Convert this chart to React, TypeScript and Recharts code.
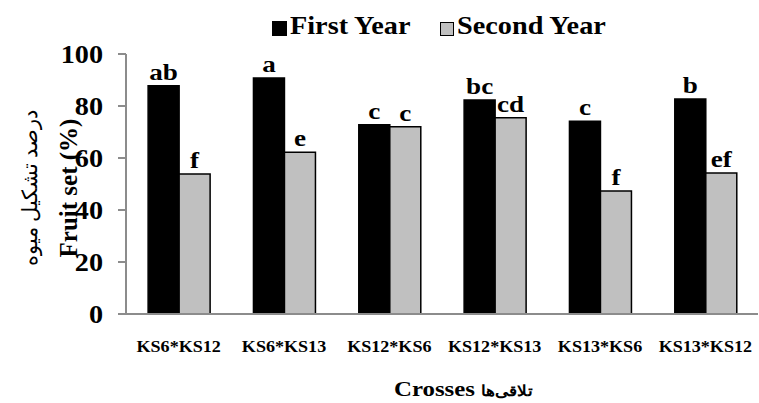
import { BarChart, Bar, XAxis, YAxis, LabelList, Label } from 'recharts';

const crosses = ['KS6*KS12', 'KS6*KS13', 'KS12*KS6', 'KS12*KS13', 'KS13*KS6', 'KS13*KS12'];
const firstYear = [87.8, 90.8, 72.8, 82.3, 74.1, 82.7];
const secondYear = [53.8, 62.2, 72.0, 75.5, 47.3, 54.2];
const firstLetters = ['ab', 'a', 'c', 'bc', 'c', 'b'];
const secondLetters = ['f', 'e', 'c', 'cd', 'f', 'ef'];
const yTicks = [0, 20, 40, 60, 80, 100];
const boundaryTicks = [0, 1, 2, 3, 4, 5, 6];

const data = crosses.map((name, i) => ({
  name,
  idx: i + 0.5,
  first: firstYear[i],
  second: secondYear[i],
  firstLbl: firstLetters[i],
  secondLbl: secondLetters[i],
}));

const serif = "'Liberation Serif', Tinos, 'Times New Roman', Times, serif";
const axisGrey = '#8c8c8c';
// the original picture is stretched a bit horizontally
const SX = 1.13;

function YTick({ x, y, payload }: any) {
  return (
    <g transform={`translate(${x},${y})`}>
      <text transform={`scale(${SX},1)`} textAnchor="end" dy="0.35em" style={{ fontFamily: serif, fontWeight: 'bold', fontSize: 25 }} fill="#000">
        {payload.value}
      </text>
    </g>
  );
}

function XTick({ x, y, payload }: any) {
  return (
    <g transform={`translate(${x},${y})`}>
      <text transform={`scale(${SX},1)`} textAnchor="middle" dy="0.71em" style={{ fontFamily: serif, fontWeight: 'bold', fontSize: 16 }} fill="#000">
        {payload.value}
      </text>
    </g>
  );
}

function BarLetter({ x, y, width, value }: any) {
  return (
    <g transform={`translate(${x + width / 2},${y - 6})`}>
      <text transform={`scale(${SX},1)`} textAnchor="middle" style={{ fontFamily: serif, fontWeight: 'bold', fontSize: 24 }} fill="#000">
        {value}
      </text>
    </g>
  );
}

function YTitles({ viewBox }: any) {
  const cy = viewBox.y + viewBox.height / 2 + 4;
  return (
    <g>
      <text
        x={30}
        y={cy}
        transform={`rotate(-90 30 ${cy})`}
        textAnchor="middle"
        dominantBaseline="central"
        style={{ fontFamily: serif, fontSize: 21 }}
        fill="#000"
      >
        درصد تشکیل میوه
      </text>
      <text
        x={68}
        y={cy}
        transform={`rotate(-90 68 ${cy})`}
        textAnchor="middle"
        dominantBaseline="central"
        style={{ fontFamily: serif, fontWeight: 'bold', fontSize: 25 }}
        fill="#000"
      >
        Fruit set (%)
      </text>
    </g>
  );
}

function XTitle() {
  return (
    <g transform="translate(463,396)">
      <text transform={`scale(${SX},1)`} textAnchor="middle" style={{ fontFamily: serif, fontWeight: 'bold', fontSize: 22 }} fill="#000">
        Crosses <tspan style={{ fontSize: 15 }}>تلاقی‌ها</tspan>
      </text>
    </g>
  );
}

function TopLegend() {
  const txt = {
    position: 'absolute' as const,
    top: 12,
    fontFamily: serif,
    fontWeight: 'bold' as const,
    fontSize: 25,
    lineHeight: '28px',
    color: '#000',
    transform: `scaleX(${SX})`,
    transformOrigin: 'left center',
    whiteSpace: 'nowrap' as const,
  };
  return (
    <div style={{ position: 'absolute', left: 0, top: 0, width: 759, height: 45, pointerEvents: 'none' }}>
      <div style={{ position: 'absolute', left: 272, top: 21, width: 15, height: 15, background: '#000', border: '1px solid #000', boxSizing: 'border-box' }} />
      <div style={{ ...txt, left: 290 }}>First Year</div>
      <div style={{ position: 'absolute', left: 440, top: 22, width: 14, height: 14, background: '#c0c0c0', border: '1px solid #000', boxSizing: 'border-box' }} />
      <div style={{ ...txt, left: 457 }}>Second Year</div>
    </div>
  );
}

export default function App() {
  return (
    <div style={{ position: 'absolute', left: 0, top: 0, width: 759, height: 403, background: '#fff', fontFamily: serif }}>
      <BarChart
        width={759}
        height={403}
        data={data}
        margin={{ top: 54, right: 1, bottom: 49, left: 16 }}
        barCategoryGap="21%"
        barGap={0}
      >
        <XAxis
          dataKey="name"
          tickLine={false}
          axisLine={{ stroke: axisGrey, strokeWidth: 2 }}
          tickSize={0}
          tickMargin={27}
          height={40}
          tick={<XTick />}
          interval={0}
        >
          <Label content={<XTitle />} />
        </XAxis>
        <XAxis
          xAxisId="bounds"
          type="number"
          dataKey="idx"
          domain={[0, 6]}
          ticks={boundaryTicks}
          tick={false}
          tickSize={5}
          tickLine={{ stroke: axisGrey, strokeWidth: 2 }}
          axisLine={false}
          height={0}
          orientation="bottom"
        />
        <YAxis
          domain={[0, 100]}
          ticks={yTicks}
          width={110}
          tickSize={8}
          tickMargin={15}
          tickLine={{ stroke: axisGrey, strokeWidth: 2 }}
          axisLine={{ stroke: axisGrey, strokeWidth: 2 }}
          tick={<YTick />}
        >
          <Label content={<YTitles />} />
        </YAxis>
        <Bar dataKey="first" fill="#000" stroke="#000" strokeWidth={1.5} isAnimationActive={false}>
          <LabelList dataKey="firstLbl" content={<BarLetter />} />
        </Bar>
        <Bar dataKey="second" fill="#c0c0c0" stroke="#000" strokeWidth={1.5} isAnimationActive={false}>
          <LabelList dataKey="secondLbl" content={<BarLetter />} />
        </Bar>
      </BarChart>
      <TopLegend />
    </div>
  );
}
